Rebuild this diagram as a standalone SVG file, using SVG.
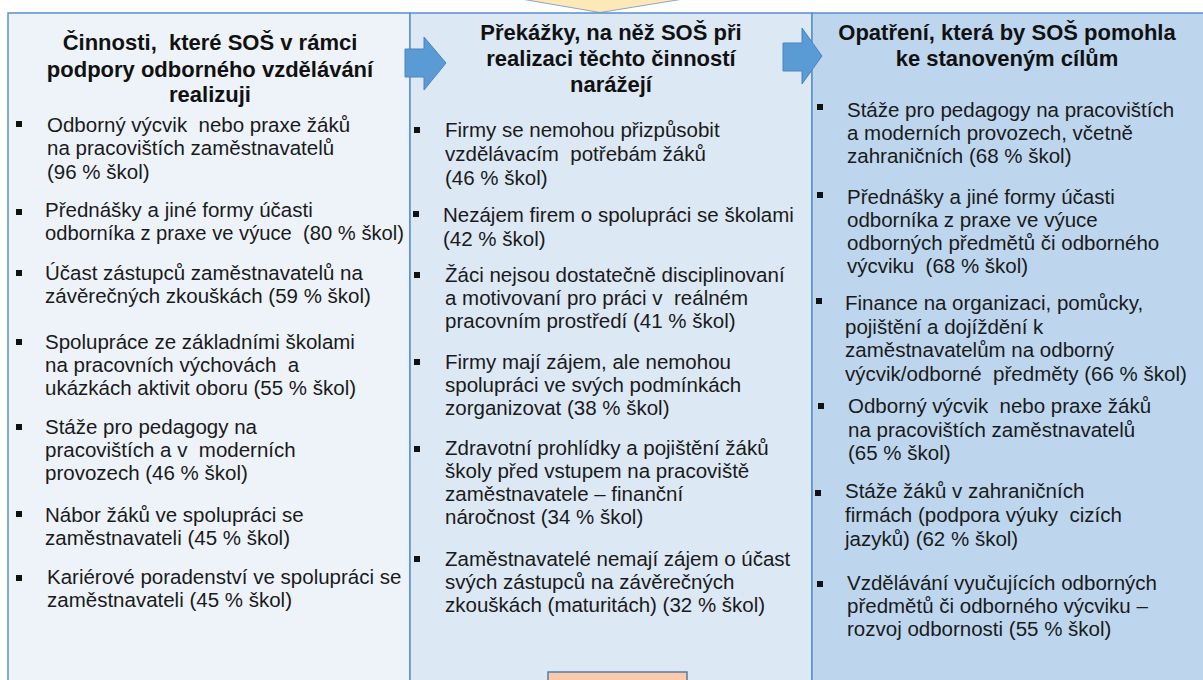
<svg xmlns="http://www.w3.org/2000/svg" width="1203" height="680" viewBox="0 0 1203 680">
<style>
.col{stroke:#5B8FCB;stroke-width:1.5}
.c1{fill:#EEF3FA}.c2{fill:#DDE8F5}.c3{fill:#BDD6EE}
text{white-space:pre}
.h{font-family:"Liberation Sans",Arial,sans-serif;font-size:22px;font-weight:bold;fill:#111;text-anchor:middle}
.t{font-family:"Liberation Sans",Arial,sans-serif;font-size:20.5px;fill:#1a1a1a}
.b{fill:#111}
.arr{fill:#5B9BD5;stroke:#4A84C0;stroke-width:1}
</style>
<rect width="1203" height="680" fill="#FFFFFF"/>
<g id="top-arrow"><polygon points="498,-5 600,12.5 708,-5" fill="#FDE8B8" stroke="#8FA4BE" stroke-width="1"/></g>
<g id="col-cinnosti">
<rect class="col c1" x="8" y="13" width="402" height="680"/>
<text class="h" x="210" y="50">Činnosti,  které SOŠ v rámci</text>
<text class="h" x="210" y="77">podpory odborného vzdělávání</text>
<text class="h" x="210" y="102">realizuji</text>
<rect class="b" x="16" y="121" width="6" height="6"/>
<text class="t" x="47" y="132">Odborný výcvik  nebo praxe žáků</text>
<text class="t" x="47" y="155">na pracovištích zaměstnavatelů</text>
<text class="t" x="47" y="179">(96 % škol)</text>
<rect class="b" x="16" y="209" width="6" height="6"/>
<text class="t" x="45" y="217">Přednášky a jiné formy účasti</text>
<text class="t" x="45" y="240" textLength="359" lengthAdjust="spacingAndGlyphs">odborníka z praxe ve výuce  (80 % škol)</text>
<rect class="b" x="16" y="270" width="6" height="6"/>
<text class="t" x="45" y="280">Účast zástupců zaměstnavatelů na</text>
<text class="t" x="45" y="303">závěrečných zkouškách (59 % škol)</text>
<rect class="b" x="16" y="339" width="6" height="6"/>
<text class="t" x="45" y="349">Spolupráce ze základními školami</text>
<text class="t" x="45" y="372">na pracovních výchovách  a</text>
<text class="t" x="45" y="395">ukázkách aktivit oboru (55 % škol)</text>
<rect class="b" x="16" y="424" width="6" height="6"/>
<text class="t" x="45" y="434">Stáže pro pedagogy na</text>
<text class="t" x="45" y="457">pracovištích a v  moderních</text>
<text class="t" x="45" y="480">provozech (46 % škol)</text>
<rect class="b" x="16" y="511" width="6" height="6"/>
<text class="t" x="45" y="522">Nábor žáků ve spolupráci se</text>
<text class="t" x="45" y="545">zaměstnavateli (45 % škol)</text>
<rect class="b" x="16" y="575" width="6" height="6"/>
<text class="t" x="47" y="584">Kariérové poradenství ve spolupráci se</text>
<text class="t" x="47" y="607">zaměstnavateli (45 % škol)</text>
</g>
<g id="col-prekazky">
<rect class="col c2" x="410" y="13" width="402" height="680"/>
<text class="h" x="611" y="40">Překážky, na něž SOŠ při</text>
<text class="h" x="611" y="66">realizaci těchto činností</text>
<text class="h" x="611" y="92">narážejí</text>
<rect class="b" x="414" y="127" width="6" height="6"/>
<text class="t" x="445" y="137">Firmy se nemohou přizpůsobit</text>
<text class="t" x="445" y="161">vzdělávacím  potřebám žáků</text>
<text class="t" x="445" y="185">(46 % škol)</text>
<rect class="b" x="413" y="211" width="6" height="6"/>
<text class="t" x="443" y="222">Nezájem firem o spolupráci se školami</text>
<text class="t" x="443" y="246">(42 % škol)</text>
<rect class="b" x="414" y="272" width="6" height="6"/>
<text class="t" x="445" y="282">Žáci nejsou dostatečně disciplinovaní</text>
<text class="t" x="445" y="305">a motivovaní pro práci v  reálném</text>
<text class="t" x="445" y="328">pracovním prostředí (41 % škol)</text>
<rect class="b" x="414" y="359" width="6" height="6"/>
<text class="t" x="445" y="369">Firmy mají zájem, ale nemohou</text>
<text class="t" x="445" y="392">spolupráci ve svých podmínkách</text>
<text class="t" x="445" y="415">zorganizovat (38 % škol)</text>
<rect class="b" x="414" y="446" width="6" height="6"/>
<text class="t" x="445" y="455">Zdravotní prohlídky a pojištění žáků</text>
<text class="t" x="445" y="478">školy před vstupem na pracoviště</text>
<text class="t" x="445" y="501">zaměstnavatele – finanční</text>
<text class="t" x="445" y="524">náročnost (34 % škol)</text>
<rect class="b" x="414" y="556" width="6" height="6"/>
<text class="t" x="445" y="566">Zaměstnavatelé nemají zájem o účast</text>
<text class="t" x="445" y="589">svých zástupců na závěrečných</text>
<text class="t" x="445" y="612">zkouškách (maturitách) (32 % škol)</text>
</g>
<g id="col-opatreni">
<rect class="col c3" x="812" y="13" width="402" height="680"/>
<text class="h" x="1007" y="40">Opatření, která by SOŠ pomohla</text>
<text class="h" x="1007" y="66">ke stanoveným cílům</text>
<rect class="b" x="817" y="104" width="6" height="6"/>
<text class="t" x="847" y="117">Stáže pro pedagogy na pracovištích</text>
<text class="t" x="847" y="140">a moderních provozech, včetně</text>
<text class="t" x="847" y="163">zahraničních (68 % škol)</text>
<rect class="b" x="817" y="192" width="6" height="6"/>
<text class="t" x="847" y="204">Přednášky a jiné formy účasti</text>
<text class="t" x="847" y="227">odborníka z praxe ve výuce</text>
<text class="t" x="847" y="250">odborných předmětů či odborného</text>
<text class="t" x="847" y="273">výcviku  (68 % škol)</text>
<rect class="b" x="816" y="298" width="6" height="6"/>
<text class="t" x="845" y="310">Finance na organizaci, pomůcky,</text>
<text class="t" x="845" y="334">pojištění a dojíždění k</text>
<text class="t" x="845" y="357">zaměstnavatelům na odborný</text>
<text class="t" x="845" y="381">výcvik/odborné  předměty (66 % škol)</text>
<rect class="b" x="818" y="403" width="6" height="6"/>
<text class="t" x="848" y="413">Odborný výcvik  nebo praxe žáků</text>
<text class="t" x="848" y="437">na pracovištích zaměstnavatelů</text>
<text class="t" x="848" y="460">(65 % škol)</text>
<rect class="b" x="815" y="490" width="6" height="6"/>
<text class="t" x="845" y="498">Stáže žáků v zahraničních</text>
<text class="t" x="845" y="522">firmách (podpora výuky  cizích</text>
<text class="t" x="845" y="546">jazyků) (62 % škol)</text>
<rect class="b" x="817" y="581" width="6" height="6"/>
<text class="t" x="847" y="590">Vzdělávání vyučujících odborných</text>
<text class="t" x="847" y="613">předmětů či odborného výcviku –</text>
<text class="t" x="847" y="636">rozvoj odbornosti (55 % škol)</text>
</g>
<g id="bottom-box"><rect x="548" y="672" width="139" height="20" fill="#F8CBAD" stroke="#5A7BA3" stroke-width="1.5"/></g>
<g id="connectors">
<polygon class="arr" points="405,49 424,49 424,37 446,63 424,90 424,77 405,77"/>
<polygon class="arr" points="783,43 802,43 802,28 822,56 802,84 802,71 783,71"/>
</g>
</svg>
